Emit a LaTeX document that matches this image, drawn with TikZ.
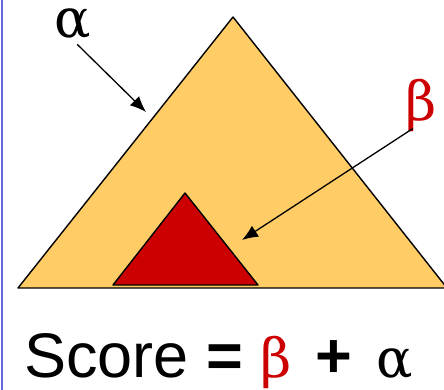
\documentclass[tikz,border=0pt]{standalone}
\usepackage{fontspec}
\setmainfont{Liberation Sans}
\newfontfamily\greekfont{DejaVu Serif}
\usetikzlibrary{arrows.meta}
\definecolor{treefill}{HTML}{FFCC66}
\definecolor{subred}{HTML}{CC0000}
\definecolor{edgeblue}{HTML}{6666DD}
\newcommand{\gk}[1]{{\fontsize{54}{60}\selectfont\greekfont #1}}
\tikzset{
  tree/.style={draw, line width=1.4pt, line join=round},
  glabel/.style={inner sep=0pt, anchor=base, text height=0.5em, text depth=0.2em},
  pointer/.style={-{Latex[length=16pt, width=13pt]}, line width=1.3pt},
}
\begin{document}
\begin{tikzpicture}[x=1pt, y=-1pt]
    \useasboundingbox (0,0) rectangle (444,390);
    \draw[edgeblue, line width=2pt] (2,0) -- (2,390);
    \draw[tree, fill=treefill] (18,288) -- (233,17) -- (447,288) -- cycle;
    \draw[tree, fill=subred] (113,285) -- (185,193) -- (258,285) -- cycle;
    \coordinate (bigedge) at (146,112);
    \coordinate (subtip) at (242,240);
    \node[glabel] (alpha) at (73,38) {\gk{α}};
    \node[glabel, text=subred] (beta) at (421,121) {\gk{β}};
    \node[inner sep=0pt, anchor=base west, font=\fontsize{63}{70}\selectfont] (score) at (24,377)
      {Score {\bfseries=} \gk{\color{subred}β}\hspace{6pt} {\bfseries+}\hspace{7pt} \gk{α}};
    \draw[pointer, shorten <=6pt] (alpha.south) -- (bigedge);
    \draw[pointer, shorten <=10pt] (beta.south) -- (subtip);
  \end{tikzpicture}
\end{document}
